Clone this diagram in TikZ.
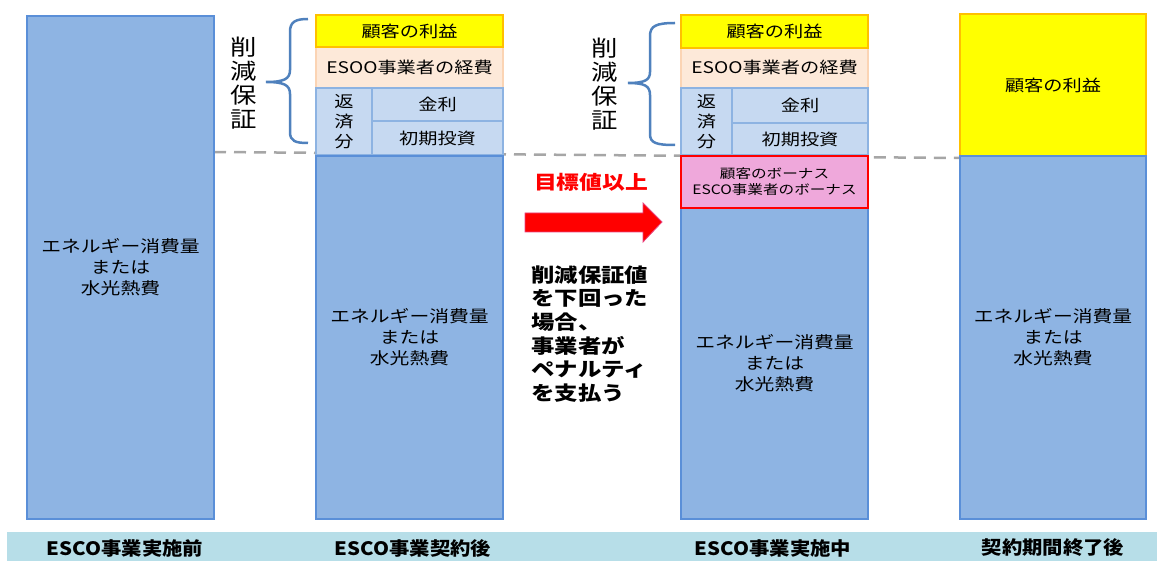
\documentclass[tikz,border=0pt]{standalone}
\usepackage{fontspec}
\setmainfont{Noto Sans CJK JP}[FakeStretch=1.2]
\newfontfamily\lblfont{Noto Sans CJK JP}[FakeStretch=1.1]
\definecolor{colfill}{HTML}{8EB4E3}
\definecolor{coledge}{HTML}{5A8FD8}
\definecolor{lbfill}{HTML}{C6D9F1}
\definecolor{lbedge}{HTML}{8DB3E2}
\definecolor{pfill}{HTML}{FDE9D9}
\definecolor{pedge}{HTML}{FBD4B4}
\definecolor{yfill}{HTML}{FFFF00}
\definecolor{yedge}{HTML}{FFC000}
\definecolor{pinkfill}{HTML}{EFA8DB}
\definecolor{barfill}{HTML}{B7DEE8}
\definecolor{dashcol}{HTML}{A6A6A6}
\definecolor{bracecol}{HTML}{4F81BD}
\definecolor{arrowedge}{HTML}{E8457F}
\tikzset{
  base/.style={inner sep=0pt, outer sep=0pt, anchor=north west, align=center,
    font=\fontsize{16}{21}\selectfont},
  bluebox/.style={base, draw=coledge, fill=colfill, line width=2.5pt,
    font=\fontsize{16.5}{21}\selectfont},
  lbbox/.style={base, draw=lbedge, fill=lbfill, line width=2.2pt},
  peachbox/.style={base, draw=pedge, fill=pfill, line width=1.5pt},
  ybox/.style={base, draw=yedge, fill=yfill, line width=2pt},
  pinkbox/.style={base, draw=red, fill=pinkfill, line width=2.5pt,
    font=\fontsize{13}{16}\selectfont},
  vtext/.style={inner sep=0pt, align=center, font=\fontsize{22}{24}\selectfont},
  bracestyle/.style={draw=bracecol, line width=2.5pt},
  barlabel/.style={inner sep=0pt, font=\lblfont\bfseries\fontsize{18.5}{20}\selectfont},
}
\begin{document}
\begin{tikzpicture}[x=1pt,y=-1pt]
\useasboundingbox (0,0) rectangle (1157,561);
% dashed reference line
\coordinate (d1) at (214,152);
\coordinate (d2) at (960,158);
\draw[dashcol, line width=2.5pt, dash pattern=on 12pt off 8pt] (d1) -- (d2);
% column 1
\node[bluebox, minimum width=187pt, minimum height=503pt] (c1) at (27,16) {エネルギー消費量\\または\\水光熱費};
% column 2
\node[peachbox, minimum width=187pt, minimum height=41pt] (c2p) at (316,47) {ESOO事業者の経費};
\node[lbbox, minimum width=56pt, minimum height=67pt, font=\fontsize{16}{20}\selectfont] (c2r) at (316,88) {返\\済\\分};
\node[lbbox, minimum width=131pt, minimum height=33pt] (c2k) at (372,88) {金利};
\node[lbbox, minimum width=131pt, minimum height=34pt] (c2s) at (372,121) {初期投資};
\node[ybox, minimum width=187pt, minimum height=32pt] (c2y) at (316,15) {顧客の利益};
\node[bluebox, minimum width=187pt, minimum height=363pt] (c2b) at (316,156) {エネルギー消費量\\または\\水光熱費};
% column 3
\node[peachbox, minimum width=187pt, minimum height=41pt] (c3p) at (681,47) {ESOO事業者の経費};
\node[lbbox, minimum width=51pt, minimum height=67pt, font=\fontsize{16}{20}\selectfont] (c3r) at (681,88) {返\\済\\分};
\node[lbbox, minimum width=136pt, minimum height=35pt] (c3k) at (732,88) {金利};
\node[lbbox, minimum width=136pt, minimum height=32pt] (c3s) at (732,123) {初期投資};
\node[ybox, minimum width=187pt, minimum height=33pt] (c3y) at (681,15) {顧客の利益};
\node[bluebox, minimum width=187pt, minimum height=311pt] (c3b) at (681,208) {エネルギー消費量\\または\\水光熱費};
\node[pinkbox, minimum width=187pt, minimum height=52pt] (c3k2) at (681,156) {顧客のボーナス\\ESCO事業者のボーナス};
% column 4
\node[ybox, minimum width=186pt, minimum height=142pt] (c4y) at (960,14) {顧客の利益};
\node[bluebox, minimum width=186pt, minimum height=363pt] (c4b) at (960,156) {エネルギー消費量\\または\\水光熱費};
% braces and vertical labels
\draw[bracestyle] (308,19) .. controls (295,19) and (290,22) .. (290,32) -- (290,70)
  .. controls (290,79) and (284,82) .. (266,82)
  .. controls (284,82) and (290,85) .. (290,94) -- (290,132)
  .. controls (290,141) and (295,143) .. (308,143);
\node[vtext] (g2) at (244,83) {削\\減\\保\\証};
\draw[bracestyle] (675,23) .. controls (656,23) and (650,26) .. (650,36) -- (650,72)
  .. controls (650,80) and (645,83) .. (628,83)
  .. controls (645,83) and (650,86) .. (650,95) -- (650,134)
  .. controls (650,143) and (656,145) .. (675,145);
\node[vtext] (g3) at (605,84) {削\\減\\保\\証};
% arrow
\node[inner sep=0pt, text=red, font=\bfseries\fontsize{19}{22}\selectfont] (goal) at (591,182) {目標値以上};
\coordinate (a1) at (525,213);
\coordinate (a2) at (643,213);
\coordinate (a3) at (643,203);
\coordinate (a4) at (662,222);
\coordinate (a5) at (643,242);
\coordinate (a6) at (643,232);
\coordinate (a7) at (525,232);
\filldraw[fill=red, draw=arrowedge, line width=0.8pt] (a1) -- (a2) -- (a3) -- (a4) -- (a5) -- (a6) -- (a7) -- cycle;
\node[inner sep=0pt, anchor=west, align=left, font=\bfseries\fontsize{19.5}{23.7}\selectfont] (pen) at (531,334) {削減保証値\\を下回った\\場合、\\事業者が\\ペナルティ\\を支払う};
% bottom bar
\node[inner sep=0pt, outer sep=0pt, anchor=north west, fill=barfill, minimum width=1150pt, minimum height=29pt] (bar) at (7,532) {};
\node[barlabel] (l1) at (125,548) {ESCO事業実施前};
\node[barlabel] (l2) at (413,548) {ESCO事業契約後};
\node[barlabel] (l3) at (773,548) {ESCO事業実施中};
\node[barlabel] (l4) at (1053,548) {契約期間終了後};
\end{tikzpicture}
\end{document}
